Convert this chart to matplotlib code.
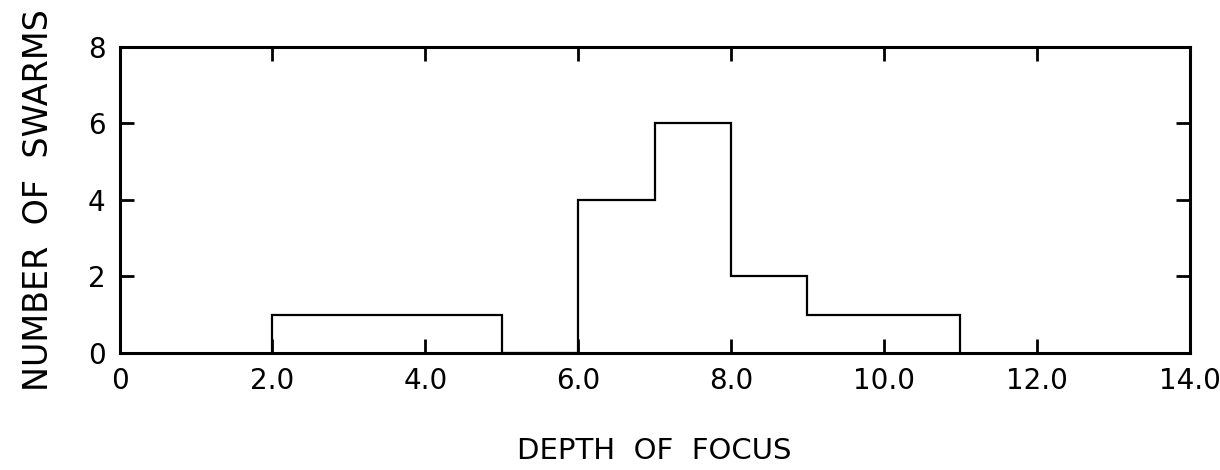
import matplotlib.pyplot as plt

# histogram of swarm focal depths (unit bins)
bin_edges = [2, 3, 4, 5, 6, 7, 8, 9, 10, 11]
counts = [1, 1, 1, 0, 4, 6, 2, 1, 1]

x_ticks = [0, 2, 4, 6, 8, 10, 12, 14]
x_labels = ['0', '2.0', '4.0', '6.0', '8.0', '10.0', '12.0', '14.0']
y_ticks = [0, 2, 4, 6, 8]

plt.rcParams['font.family'] = ['DejaVu Sans']

fig = plt.figure(figsize=(12.2, 4.7), dpi=100)
ax = fig.add_axes([0.098, 0.249, 0.877, 0.651])

ax.stairs(counts, bin_edges, baseline=0, color='black', linewidth=1.6)

ax.set_xlim(0, 14)
ax.set_ylim(0, 8)
ax.set_xticks(x_ticks)
ax.set_xticklabels(x_labels)
ax.set_yticks(y_ticks)

ax.tick_params(direction='in', top=True, right=True, length=10, width=2,
               labelsize=20, pad=10)
for s in ax.spines.values():
    s.set_linewidth(2.2)

ax.set_xlabel('DEPTH  OF  FOCUS', fontsize=21, labelpad=30)
ax.set_ylabel('NUMBER  OF  SWARMS', fontsize=24, labelpad=24)

fig.savefig('out.png', dpi=100)
